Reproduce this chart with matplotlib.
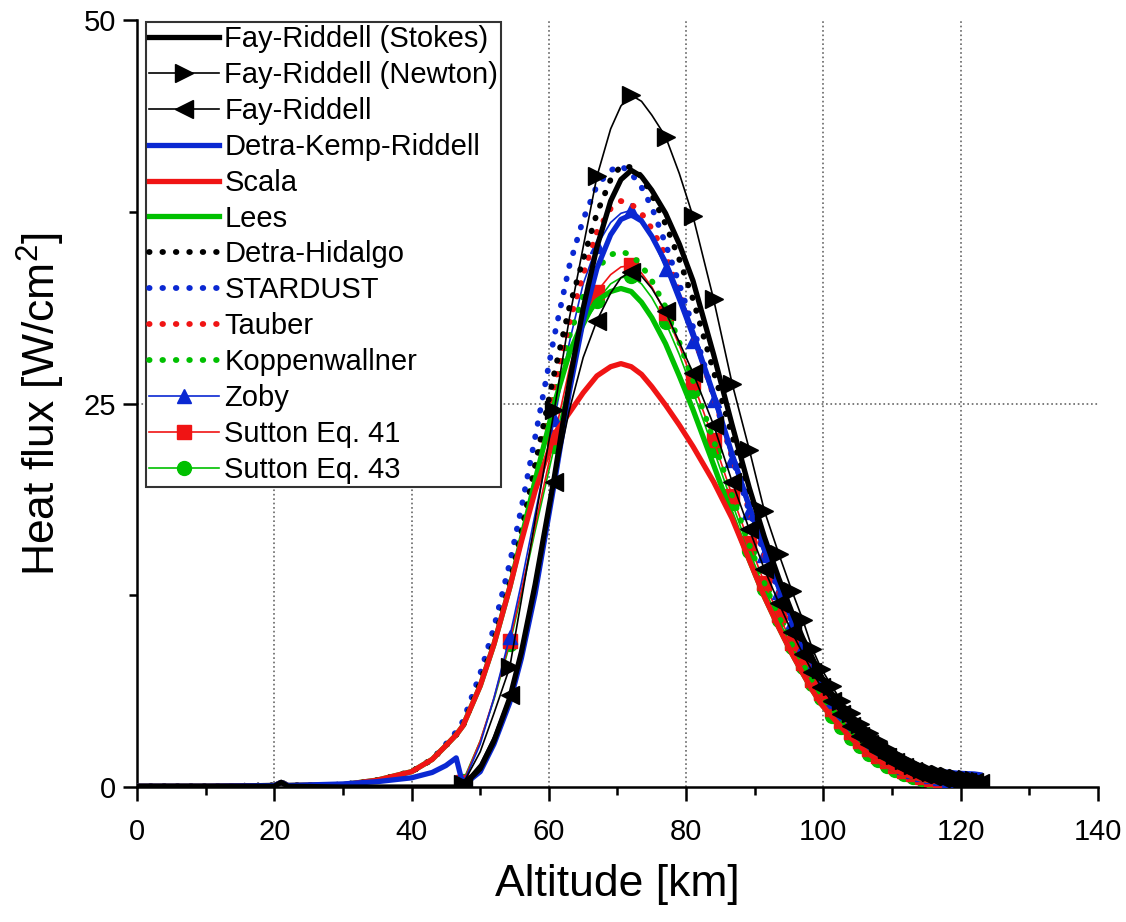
import matplotlib
matplotlib.use("Agg")
import matplotlib.pyplot as plt
from matplotlib.ticker import MultipleLocator

plt.rcParams["font.family"] = ["Liberation Sans", "DejaVu Sans"]
plt.rcParams["mathtext.fontset"] = "custom"
plt.rcParams["mathtext.rm"] = "Liberation Sans"
plt.rcParams["axes.unicode_minus"] = False

# altitude grid [km] (trajectory points, low altitude -> high altitude)
alt = [0, 10, 20, 21, 22, 30, 35, 40, 43, 45, 46.5, 47.5,
       50, 52, 54.3, 56, 58, 60.8, 63, 65, 67, 69, 70.5, 72,
       73.5, 75, 77, 79, 81, 84, 86.7, 89.2, 91.4, 93.5, 95.4, 97, 98.4, 99.7,
       101.2, 102.6, 104, 105.3, 106.6, 107.9, 109.2, 110.5, 111.8, 113.1,
       114.4, 115.7, 117, 118.3, 119.6, 120.9, 122, 122.8]

# indices of the points that carry markers
mark_idx = [11, 14, 17, 20, 23, 26, 28] + list(range(29, 56))

# heat flux [W/cm2]
fr_stokes = [0.05, 0.05, 0.05, 0.3, 0.05, 0.0, 0.0, 0.0, 0.0, 0.0, 0.0, 0.1,
             1.2, 3.0, 5.8, 8.8, 13.2, 20.2, 26.4, 31.2, 35.2, 38.2, 39.6, 40.2,
             39.8, 38.9, 37.4, 35.4, 33.0, 28.2, 23.6, 19.5, 16.3, 13.6, 11.4, 9.7, 8.4, 7.2,
             6.1, 5.2, 4.4, 3.7, 3.15, 2.65, 2.2, 1.85, 1.5, 1.25, 1.02, 0.85, 0.72, 0.6, 0.5, 0.43, 0.38, 0.33]
fr_newton = [0.05, 0.05, 0.05, 0.3, 0.05, 0.0, 0.0, 0.0, 0.0, 0.0, 0.0, 0.2,
             2.3, 4.8, 7.8, 12.2, 17.4, 24.6, 30.6, 35.2, 39.8, 42.9, 44.4, 45.1,
             44.7, 43.8, 42.4, 40.0, 37.2, 31.8, 26.3, 22.0, 18.0, 15.2, 12.8, 10.9, 9.0, 7.7,
             6.6, 5.6, 4.8, 4.1, 3.5, 3.0, 2.5, 2.1, 1.75, 1.45, 1.2, 1.0, 0.85, 0.7, 0.6, 0.5, 0.45, 0.4]
fay_riddell = [0.05, 0.05, 0.05, 0.3, 0.05, 0.0, 0.0, 0.0, 0.0, 0.0, 0.0, 0.2,
               1.5, 3.3, 6.0, 9.0, 13.3, 19.9, 24.6, 28.0, 30.4, 32.2, 33.2, 33.6,
               33.3, 32.5, 31.0, 29.0, 27.0, 23.6, 19.9, 16.8, 14.2, 12.0, 10.1, 8.7, 7.5, 6.5,
               5.6, 4.75, 4.0, 3.35, 2.8, 2.35, 1.95, 1.6, 1.3, 1.05, 0.85, 0.7, 0.58, 0.48, 0.41, 0.35, 0.3, 0.26]
dkr = [0.05, 0.05, 0.1, 0.3, 0.1, 0.2, 0.35, 0.6, 0.95, 1.4, 1.9, 0.1,
       1.0, 2.8, 5.5, 8.4, 12.6, 19.8, 25.8, 30.4, 33.8, 36.0, 37.0, 37.3,
       36.9, 35.9, 34.2, 32.0, 29.6, 25.6, 21.7, 18.3, 15.5, 13.0, 11.0, 9.4, 8.1, 7.0,
       6.0, 5.1, 4.35, 3.7, 3.15, 2.7, 2.3, 1.95, 1.65, 1.42, 1.25, 1.12, 1.02, 0.95, 0.9, 0.87, 0.85, 0.8]
scala = [0.05, 0.05, 0.1, 0.3, 0.1, 0.15, 0.45, 1.0, 1.8, 2.7, 3.4, 4.0,
         6.6, 9.3, 13.0, 16.0, 19.3, 23.0, 24.4, 25.7, 26.8, 27.4, 27.6, 27.4,
         26.9, 26.1, 24.9, 23.6, 22.2, 19.9, 17.5, 14.8, 12.4, 10.4, 8.7, 7.4, 6.3, 5.4,
         4.6, 3.9, 3.2, 2.65, 2.15, 1.75, 1.4, 1.1, 0.85, 0.65, 0.5, 0.4, 0.32, 0.26, 0.22, 0.18, 0.15, 0.12]
lees = [0.05, 0.05, 0.1, 0.3, 0.1, 0.15, 0.45, 1.0, 1.8, 2.7, 3.4, 4.0,
        6.6, 9.3, 13.0, 16.2, 20.0, 25.0, 28.3, 30.4, 31.7, 32.3, 32.5, 32.3,
        31.6, 30.6, 28.9, 26.8, 24.6, 21.0, 17.7, 14.8, 12.4, 10.4, 8.7, 7.4, 6.3, 5.4,
        4.6, 3.9, 3.2, 2.65, 2.15, 1.75, 1.4, 1.1, 0.85, 0.65, 0.5, 0.4, 0.32, 0.26, 0.22, 0.18, 0.15, 0.12]
detra_hidalgo = [0.05, 0.05, 0.1, 0.3, 0.1, 0.15, 0.45, 1.0, 1.8, 2.7, 3.4, 4.0,
                 6.8, 9.5, 13.2, 16.6, 21.0, 27.0, 31.3, 34.4, 37.4, 39.6, 40.5, 40.4,
                 39.8, 38.6, 36.7, 34.4, 31.8, 27.1, 22.9, 19.1, 16.0, 13.4, 11.2, 9.6, 8.3, 7.1,
                 6.1, 5.2, 4.4, 3.7, 3.15, 2.65, 2.2, 1.85, 1.5, 1.25, 1.02, 0.85, 0.72, 0.6, 0.5, 0.43, 0.38, 0.33]
stardust = [0.05, 0.05, 0.1, 0.3, 0.1, 0.15, 0.45, 1.0, 1.8, 2.8, 3.6, 4.3,
            7.4, 10.4, 14.6, 18.2, 22.8, 29.4, 34.0, 37.0, 39.2, 40.2, 40.5, 40.0,
            39.1, 37.8, 35.4, 32.8, 30.0, 25.5, 21.5, 18.0, 15.2, 12.8, 10.8, 9.2, 7.9, 6.8,
            5.6, 4.75, 4.0, 3.35, 2.8, 2.35, 1.95, 1.6, 1.3, 1.05, 0.85, 0.7, 0.58, 0.48, 0.41, 0.35, 0.3, 0.26]
tauber = [0.05, 0.05, 0.1, 0.3, 0.1, 0.15, 0.45, 1.0, 1.8, 2.7, 3.4, 4.0,
          6.8, 9.5, 13.2, 16.5, 20.6, 26.2, 30.3, 33.4, 36.2, 37.7, 38.2, 38.0,
          37.4, 36.4, 34.7, 32.3, 29.6, 25.5, 21.5, 18.0, 15.1, 12.7, 10.7, 9.1, 7.8, 6.7,
          5.6, 4.75, 4.0, 3.35, 2.8, 2.35, 1.95, 1.6, 1.3, 1.05, 0.85, 0.7, 0.58, 0.48, 0.41, 0.35, 0.3, 0.26]
koppenwallner = [0.05, 0.05, 0.1, 0.3, 0.1, 0.15, 0.45, 1.0, 1.8, 2.75, 3.5, 4.2,
                 7.0, 9.8, 13.6, 16.8, 20.8, 25.6, 29.4, 32.0, 33.8, 34.7, 34.9, 34.7,
                 34.0, 33.0, 31.3, 29.0, 26.5, 22.6, 19.0, 15.8, 13.3, 11.1, 9.3, 8.0, 6.9, 5.9,
                 5.1, 4.3, 3.6, 3.0, 2.45, 2.05, 1.7, 1.35, 1.07, 0.85, 0.68, 0.55, 0.45, 0.37, 0.31, 0.27, 0.22, 0.19]
zoby = [0.05, 0.05, 0.05, 0.3, 0.05, 0.0, 0.0, 0.0, 0.0, 0.0, 0.0, 0.2,
        2.8, 5.8, 9.8, 13.3, 17.8, 24.0, 29.0, 32.8, 35.3, 36.8, 37.4, 37.6,
        37.1, 35.9, 33.8, 31.5, 29.1, 25.2, 21.3, 17.9, 15.1, 12.7, 10.7, 9.1, 7.8, 6.7,
        5.6, 4.75, 4.0, 3.35, 2.8, 2.35, 1.95, 1.6, 1.3, 1.05, 0.85, 0.7, 0.58, 0.48, 0.41, 0.35, 0.3, 0.26]
sutton41 = [0.05, 0.05, 0.05, 0.3, 0.05, 0.0, 0.0, 0.0, 0.0, 0.0, 0.0, 0.3,
            3.0, 5.8, 9.5, 12.8, 17.0, 22.8, 27.3, 30.5, 32.3, 33.4, 33.9, 34.0,
            33.5, 32.6, 30.9, 28.8, 26.4, 22.6, 19.0, 15.9, 13.3, 11.2, 9.4, 8.1, 7.0, 6.1,
            5.1, 4.3, 3.6, 3.0, 2.45, 2.05, 1.7, 1.35, 1.07, 0.85, 0.68, 0.55, 0.45, 0.37, 0.31, 0.27, 0.22, 0.19]
sutton43 = [0.05, 0.05, 0.05, 0.3, 0.05, 0.0, 0.0, 0.0, 0.0, 0.0, 0.0, 0.4,
            3.0, 5.7, 9.3, 12.6, 16.7, 22.2, 26.7, 29.9, 31.7, 32.8, 33.2, 33.3,
            32.8, 31.9, 30.3, 28.2, 25.8, 22.0, 18.5, 15.4, 12.9, 10.9, 9.1, 7.8, 6.7, 5.8,
            4.6, 3.9, 3.2, 2.65, 2.15, 1.75, 1.4, 1.1, 0.85, 0.65, 0.5, 0.4, 0.32, 0.26, 0.22, 0.18, 0.15, 0.12]

BLACK, BLUE, RED, GREEN = "#000000", "#0a28d2", "#f01414", "#00c000"
DOT = (0, (0.1, 2.2))

# (label, data, color, linewidth, linestyle, marker)
series = [
    ("Fay-Riddell (Stokes)", fr_stokes, BLACK, 3.8, "-", None),
    ("Fay-Riddell (Newton)", fr_newton, BLACK, 1.2, "-", ">"),
    ("Fay-Riddell", fay_riddell, BLACK, 1.2, "-", "<"),
    ("Detra-Kemp-Riddell", dkr, BLUE, 3.8, "-", None),
    ("Scala", scala, RED, 3.8, "-", None),
    ("Lees", lees, GREEN, 3.8, "-", None),
    ("Detra-Hidalgo", detra_hidalgo, BLACK, 4.2, DOT, None),
    ("STARDUST", stardust, BLUE, 4.2, DOT, None),
    ("Tauber", tauber, RED, 4.2, DOT, None),
    ("Koppenwallner", koppenwallner, GREEN, 4.2, DOT, None),
    ("Zoby", zoby, BLUE, 1.2, "-", "^"),
    ("Sutton Eq. 41", sutton41, RED, 1.2, "-", "s"),
    ("Sutton Eq. 43", sutton43, GREEN, 1.2, "-", "o"),
]

fig = plt.figure(figsize=(11.26, 9.22), dpi=100)
ax = fig.add_axes([0.1217, 0.1464, 0.8534, 0.8319])

handles = []
n = len(series)
for i, (label, q, color, lw, ls, mk) in enumerate(series):
    kw = dict(color=color, lw=lw, linestyle=ls, label=label, zorder=3 + n - i)
    if ls == DOT:
        kw["dash_capstyle"] = "round"
    if mk is not None:
        ms = 12.5 if mk in (">", "<") else 10
        kw.update(marker=mk, markersize=ms, markevery=mark_idx,
                  markerfacecolor=color, markeredgecolor=color)
    h, = ax.plot(alt, q, **kw)
    handles.append(h)

ax.set_xlim(0, 140)
ax.set_ylim(0, 50)
ax.xaxis.set_major_locator(MultipleLocator(20))
ax.xaxis.set_minor_locator(MultipleLocator(10))
ax.yaxis.set_major_locator(MultipleLocator(25))
ax.yaxis.set_minor_locator(MultipleLocator(12.5))

for s in ["top", "right"]:
    ax.spines[s].set_visible(False)
for s in ["left", "bottom"]:
    ax.spines[s].set_linewidth(1.8)

ax.tick_params(axis="both", which="major", direction="out", length=10, width=1.8,
               labelsize=21)
ax.tick_params(axis="x", which="major", pad=12)
ax.tick_params(axis="y", which="major", pad=5)
ax.tick_params(axis="both", which="minor", direction="out", length=6, width=1.8)

ax.grid(True, which="major", linestyle=":", color="#666666", lw=1.2)
ax.set_axisbelow(True)
fig.canvas.draw()
# no grid lines along the plot edges
for tick in ax.xaxis.get_major_ticks():
    if tick.get_loc() <= 0 or tick.get_loc() >= 140:
        tick.gridline.set_visible(False)
for tick in ax.yaxis.get_major_ticks():
    if tick.get_loc() <= 0 or tick.get_loc() >= 50:
        tick.gridline.set_visible(False)

ax.set_xlabel("Altitude [km]", fontsize=32, labelpad=13)
ax.set_ylabel(r"Heat flux [W/cm$^\mathregular{2}$]", fontsize=32, labelpad=12)

leg = ax.legend(handles=handles, loc="upper left", bbox_to_anchor=(0.009, 0.997),
                borderaxespad=0, fontsize=21, numpoints=1, handlelength=2.4,
                handletextpad=0.2, labelspacing=0.27, borderpad=0.1,
                fancybox=False, framealpha=1, edgecolor="#333333")
leg.get_frame().set_linewidth(1.5)
leg.set_zorder(20)

fig.savefig("out.png", dpi=100)
